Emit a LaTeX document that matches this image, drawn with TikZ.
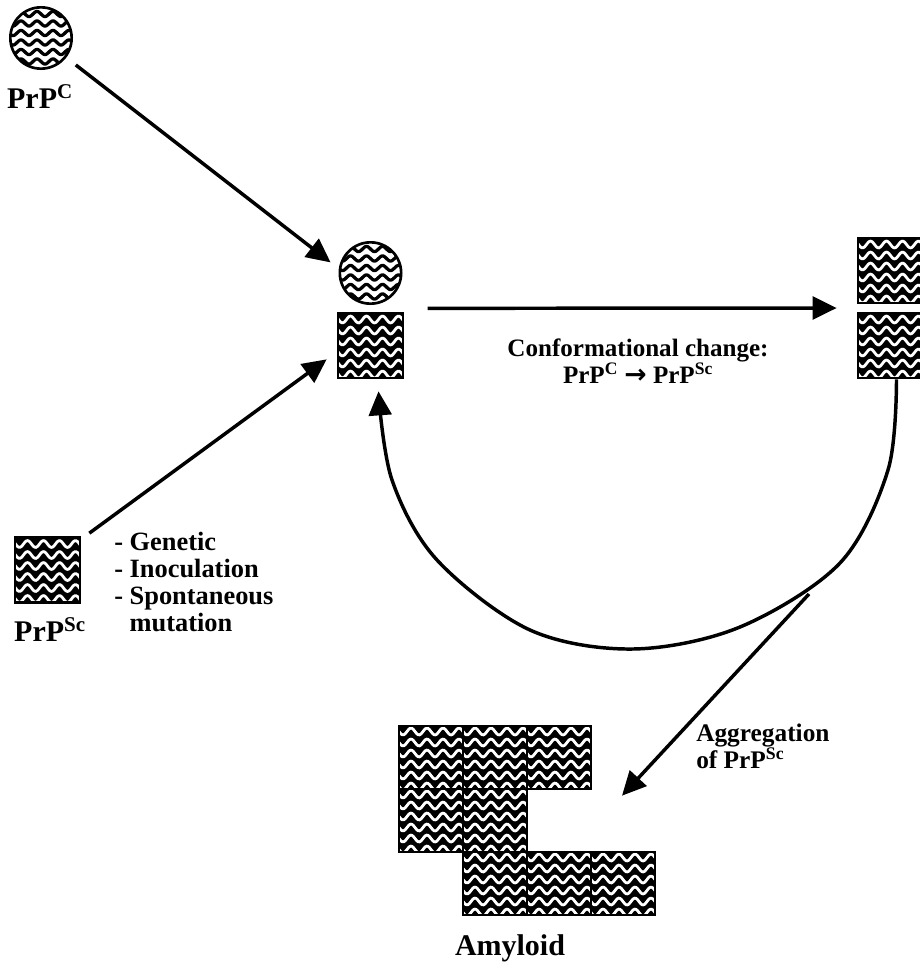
\documentclass[tikz,border=0pt]{standalone}
\usepackage{fontspec}
\setmainfont{Liberation Serif}
\newfontfamily\arrfont{DejaVu Sans}
\usetikzlibrary{arrows.meta,calc}
\begin{document}
\begin{tikzpicture}[x=0.75pt,y=-0.75pt,
  sqr/.style={draw=black, line width=2pt, fill=black, minimum width=48.75pt, minimum height=48.75pt, inner sep=0pt,
    path picture={
      \begin{scope}[shift={(path picture bounding box.center)}]
      \foreach \r in {-26,-15,-4,7,18,29} {
        \draw[white, line width=2.1pt] plot[domain=-36:36, samples=60, smooth] (\x, {\r+3.4*sin(\x*22.5)});
      }
      \end{scope}
    }},
  asq/.style={sqr, minimum width=48pt, minimum height=47.25pt},
  circ/.style={circle, draw=black, line width=2pt, fill=white, minimum size=46pt, inner sep=0pt,
    path picture={
      \begin{scope}[shift={(path picture bounding box.center)}]
      \foreach \r in {-24,-14.5,-5,4.5,14,23.5} {
        \draw[black, line width=2.4pt] plot[domain=-36:36, samples=60, smooth] (\x, {\r+2.6*sin(\x*22.5)});
      }
      \end{scope}
    }},
  arr/.style={line width=2.6pt, -{Triangle[length=18pt,width=17pt]}},
  lblM/.style={font=\bfseries\fontsize{18.8}{20}\selectfont, inner sep=0pt},
  lblL/.style={font=\bfseries\fontsize{22.5}{24}\selectfont, inner sep=0pt}
]
\useasboundingbox (0,0) rectangle (920,971);

% molecules
\node[circ] (c1) at (41,38) {};
\node[lblL] (l1) at (40,97) {PrP\textsuperscript{C}};
\node[circ] (mc) at (370.5,273) {};
\node[sqr] (ms) at (370.5,345.5) {};
\node[sqr] (rt) at (890.5,270.5) {};
\node[sqr] (rb) at (890.5,345.5) {};
\node[sqr] (ls) at (47.5,570) {};
\node[lblL] (l2) at (50,630) {PrP\textsuperscript{Sc}};

% amyloid
\node[asq] (a1) at (431,757.5) {};
\node[asq] (a2) at (495,757.5) {};
\node[asq] (a3) at (559,757.5) {};
\node[asq] (a4) at (431,820.5) {};
\node[asq] (a5) at (495,820.5) {};
\node[asq] (a6) at (495,883.5) {};
\node[asq] (a7) at (559,883.5) {};
\node[asq] (a8) at (623,883.5) {};
\node[lblL] (amy) at (510,948) {Amyloid};

% texts
\node[lblM, align=left, anchor=north west, font=\bfseries\fontsize{19.8}{20.2}\selectfont] (list) at (114,532)
  {- Genetic\\- Inoculation\\- Spontaneous\\\hphantom{- }mutation};
\node[lblM, align=center, font=\bfseries\fontsize{18.8}{18}\selectfont] (conf) at (638,361)
  {Conformational change:\\PrP\textsuperscript{C} {\arrfont\bfseries\fontsize{20}{18}\selectfont →} PrP\textsuperscript{Sc}};
\node[lblM, align=left, anchor=west, font=\bfseries\fontsize{19}{19}\selectfont] (agg) at (696,746)
  {Aggregation\\of PrP\textsuperscript{Sc}};

% connectors
\draw[arr, shorten <=9pt, shorten >=5.6pt] (c1) -- ([shift={(-2,-6)}]mc.west);
\draw[arr] ([shift={(8,-3)}]ls.north east) -- ([shift={(-10,-20)}]ms.south west);
\draw[arr] ($(mc.south)!0.5!(ms.north)+(57,0)$) -- ($(rt.south west)!0.5!(rb.north west)+(-20,0)$);

\coordinate (cs) at ([shift={(6,0)}]rb.south);
\coordinate (ce) at ([shift={(8,12)}]ms.south);
\draw[arr] plot[smooth, tension=0.55] coordinates
  {(cs) (888,470) (840,563) (740,627) (633,649) (530,630) (437,560) (392,480) (ce)};

\coordinate (br) at (809,594);
\draw[arr] (br) -- ([shift={(-1,-55)}]a8.north);
\end{tikzpicture}
\end{document}
